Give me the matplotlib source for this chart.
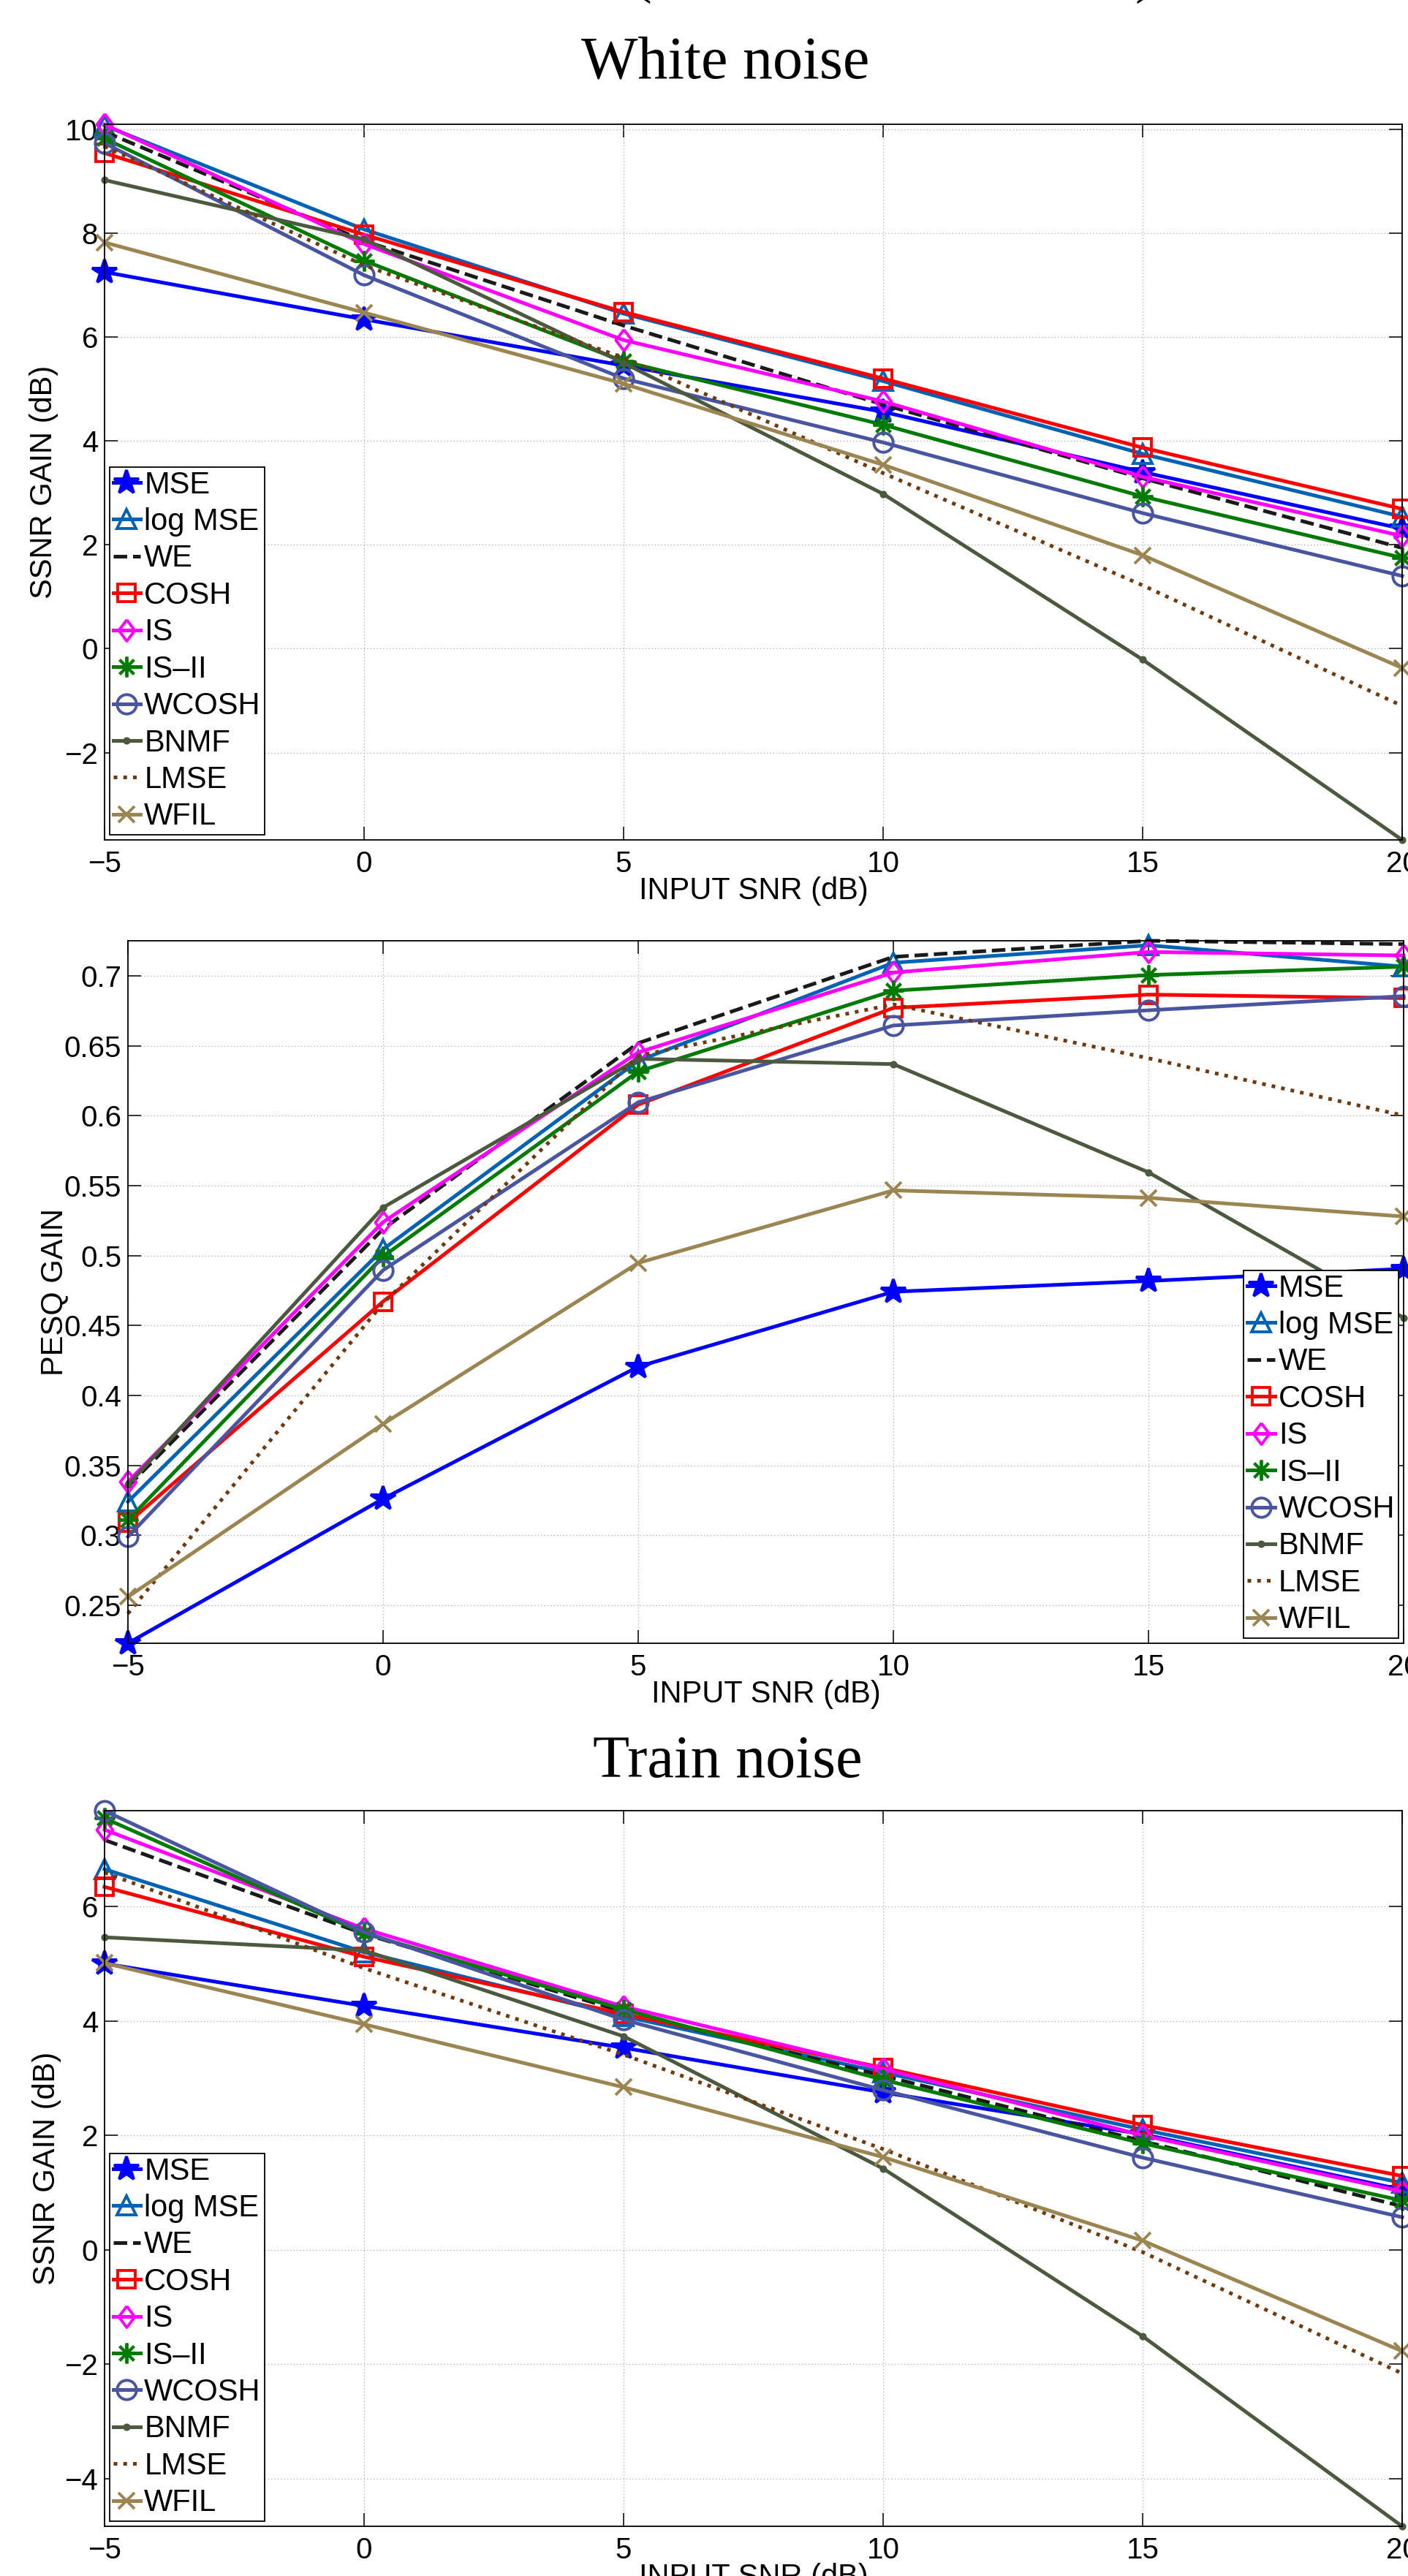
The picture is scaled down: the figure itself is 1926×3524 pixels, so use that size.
import matplotlib
matplotlib.use('Agg')
import matplotlib.pyplot as plt
from matplotlib.ticker import FormatStrFormatter

plt.rcParams['font.family'] = ['Liberation Sans', 'DejaVu Sans']

# ---------------- data ----------------
snr = [-5, 0, 5, 10, 15, 20]
methods = ['MSE', 'log MSE', 'WE', 'COSH', 'IS', 'IS\u2013II', 'WCOSH', 'BNMF', 'LMSE', 'WFIL']

# White noise - SSNR gain (dB)
w_ssnr_mse    = [7.25, 6.34, 5.45, 4.56, 3.40, 2.31]
w_ssnr_logmse = [10.07, 8.07, 6.45, 5.15, 3.75, 2.54]
w_ssnr_we     = [9.95, 7.85, 6.22, 4.70, 3.28, 1.94]
w_ssnr_cosh   = [9.54, 7.97, 6.48, 5.20, 3.87, 2.69]
w_ssnr_is     = [10.09, 7.79, 5.94, 4.76, 3.31, 2.17]
w_ssnr_is2    = [9.82, 7.47, 5.53, 4.31, 2.93, 1.75]
w_ssnr_wcosh  = [9.73, 7.19, 5.20, 3.97, 2.61, 1.40]
w_ssnr_bnmf   = [9.02, 7.88, 5.50, 2.98, -0.21, -3.68]
w_ssnr_lmse   = [9.67, 7.38, 5.60, 3.38, 1.22, -1.10]
w_ssnr_wfil   = [7.82, 6.47, 5.10, 3.54, 1.80, -0.37]

# White noise - PESQ gain
w_pesq_mse    = [0.2228, 0.3261, 0.4206, 0.4742, 0.4819, 0.4906]
w_pesq_logmse = [0.324, 0.5046, 0.6394, 0.7095, 0.7220, 0.7067]
w_pesq_we     = [0.335, 0.519, 0.652, 0.7137, 0.7252, 0.7228]
w_pesq_cosh   = [0.309, 0.4672, 0.608, 0.6772, 0.6867, 0.6842]
w_pesq_is     = [0.3383, 0.524, 0.6454, 0.7025, 0.7172, 0.7147]
w_pesq_is2    = [0.311, 0.4994, 0.6317, 0.6895, 0.7007, 0.7067]
w_pesq_wcosh  = [0.299, 0.4896, 0.6097, 0.6646, 0.6755, 0.6856]
w_pesq_bnmf   = [0.336, 0.5344, 0.6408, 0.637, 0.5596, 0.4556]
w_pesq_lmse   = [0.244, 0.466, 0.643, 0.6797, 0.6412, 0.6002]
w_pesq_wfil   = [0.256, 0.3796, 0.4948, 0.5467, 0.5414, 0.528]

# Train noise - SSNR gain (dB)
t_ssnr_mse    = [5.00, 4.26, 3.53, 2.75, 2.02, 1.05]
t_ssnr_logmse = [6.65, 5.20, 4.08, 3.10, 2.10, 1.17]
t_ssnr_we     = [7.16, 5.52, 4.16, 3.04, 1.90, 0.76]
t_ssnr_cosh   = [6.34, 5.12, 4.12, 3.18, 2.18, 1.29]
t_ssnr_is     = [7.34, 5.61, 4.25, 3.16, 2.00, 1.02]
t_ssnr_is2    = [7.54, 5.53, 4.20, 2.97, 1.86, 0.86]
t_ssnr_wcosh  = [7.67, 5.55, 4.02, 2.79, 1.61, 0.57]
t_ssnr_bnmf   = [5.46, 5.23, 3.73, 1.42, -1.51, -4.83]
t_ssnr_lmse   = [6.59, 4.92, 3.41, 1.76, -0.04, -2.16]
t_ssnr_wfil   = [5.01, 3.94, 2.84, 1.62, 0.16, -1.77]

x_ticks = [-5, 0, 5, 10, 15, 20]
ssnr_white_ticks = [-2, 0, 2, 4, 6, 8, 10]
pesq_ticks = [0.25, 0.3, 0.35, 0.4, 0.45, 0.5, 0.55, 0.6, 0.65, 0.7]
ssnr_train_ticks = [-4, -2, 0, 2, 4, 6]

white_ssnr = [w_ssnr_mse, w_ssnr_logmse, w_ssnr_we, w_ssnr_cosh, w_ssnr_is,
              w_ssnr_is2, w_ssnr_wcosh, w_ssnr_bnmf, w_ssnr_lmse, w_ssnr_wfil]
white_pesq = [w_pesq_mse, w_pesq_logmse, w_pesq_we, w_pesq_cosh, w_pesq_is,
              w_pesq_is2, w_pesq_wcosh, w_pesq_bnmf, w_pesq_lmse, w_pesq_wfil]
train_ssnr = [t_ssnr_mse, t_ssnr_logmse, t_ssnr_we, t_ssnr_cosh, t_ssnr_is,
              t_ssnr_is2, t_ssnr_wcosh, t_ssnr_bnmf, t_ssnr_lmse, t_ssnr_wfil]

# ---------------- styles ----------------
diamond = [(0, 1), (0.75, 0), (0, -1), (-0.75, 0), (0, 1)]
LW = 3.6
MEW = 2.8
styles = [
    dict(color='#0000FF', ls='-', marker='*', ms=25, mfc='#0000FF'),
    dict(color='#0062B4', ls='-', marker='^', ms=19, mfc='none'),
    dict(color='#1A1A1A', ls='--', marker='None'),
    dict(color='#FF0000', ls='-', marker='s', ms=17, mfc='none'),
    dict(color='#FF00FF', ls='-', marker=diamond, ms=21, mfc='none'),
    dict(color='#007A00', ls='-', marker=(8, 2, 0), ms=20),
    dict(color='#4A55A2', ls='-', marker='o', ms=19, mfc='none'),
    dict(color='#4B5A3E', ls='-', marker='.', ms=9),
    dict(color='#6E3B0E', ls=':', marker='None'),
    dict(color='#9B8550', ls='-', marker='x', ms=16),
]

W, H = 1926, 3524
fig = plt.figure(figsize=(W / 100, H / 100), dpi=100)


def px_axes(l, t, r, b):
    return fig.add_axes([l / W, 1 - b / H, (r - l) / W, (b - t) / H])


def draw_panel(rect, series, ylim, yticks, ylabel, ylab_x, legend_loc, yfmt=None):
    l, t, r, b = rect
    ax = px_axes(l, t, r, b)
    for name, vals, st in zip(methods, series, styles):
        ax.plot(snr, vals, label=name, lw=LW, mew=MEW, clip_on=False,
                solid_joinstyle='miter', **st)
    ax.set_xlim(-5, 20)
    ax.set_ylim(*ylim)
    ax.set_xticks(x_ticks)
    ax.set_yticks(yticks)
    if yfmt:
        ax.yaxis.set_major_formatter(FormatStrFormatter(yfmt))
    ax.grid(True, ls=(0, (1, 2.5)), color='#a8a8a8', lw=0.9)
    ax.set_axisbelow(True)
    ax.tick_params(direction='in', length=13, width=1.1, top=True, right=True,
                   labelsize=29)
    ax.tick_params(axis='x', pad=10)
    ax.tick_params(axis='y', pad=6.5)
    for sp in ax.spines.values():
        sp.set_linewidth(1.3)
    ax.set_xlabel('INPUT SNR (dB)', fontsize=30)
    ax.xaxis.set_label_coords(0.5, -50 / (b - t))
    ax.xaxis.label.set_va('top')
    ax.set_ylabel(ylabel, fontsize=30)
    ax.yaxis.set_label_coords((ylab_x - l) / (r - l), 0.5)
    ax.yaxis.label.set_va('baseline')
    leg = ax.legend(loc=legend_loc, fontsize=30, handlelength=0.9,
                    handletextpad=0.12, borderpad=0.12, labelspacing=0.25,
                    borderaxespad=0.16, fancybox=False, framealpha=1,
                    edgecolor='black', numpoints=1)
    leg.get_frame().set_linewidth(1.3)
    return ax


draw_panel((143, 170, 1918, 1149), white_ssnr, (-3.68, 10.094), ssnr_white_ticks,
           'SSNR GAIN (dB)', 71, 'lower left')
draw_panel((175, 1287, 1920, 2248), white_pesq, (0.2228, 0.7252), pesq_ticks,
           'PESQ GAIN', 85, 'lower right', yfmt='%g')
draw_panel((143, 2477, 1918, 3456), train_ssnr, (-4.83, 7.672), ssnr_train_ticks,
           'SSNR GAIN (dB)', 75, 'lower left')

serif = ['Liberation Serif', 'DejaVu Serif']
fig.text(992 / W, 1 - 107 / H, 'White noise', ha='center', va='baseline',
         fontsize=59, family=serif)
fig.text(995 / W, 1 - 2431 / H, 'Train noise', ha='center', va='baseline',
         fontsize=59, family=serif)
fig.text(878 / W, 1 + 11 / H, '(', ha='center', va='baseline', fontsize=58, family=serif)
fig.text(1566 / W, 1 + 11 / H, ')', ha='center', va='baseline', fontsize=58, family=serif)

fig.savefig('out.png', dpi=100)
